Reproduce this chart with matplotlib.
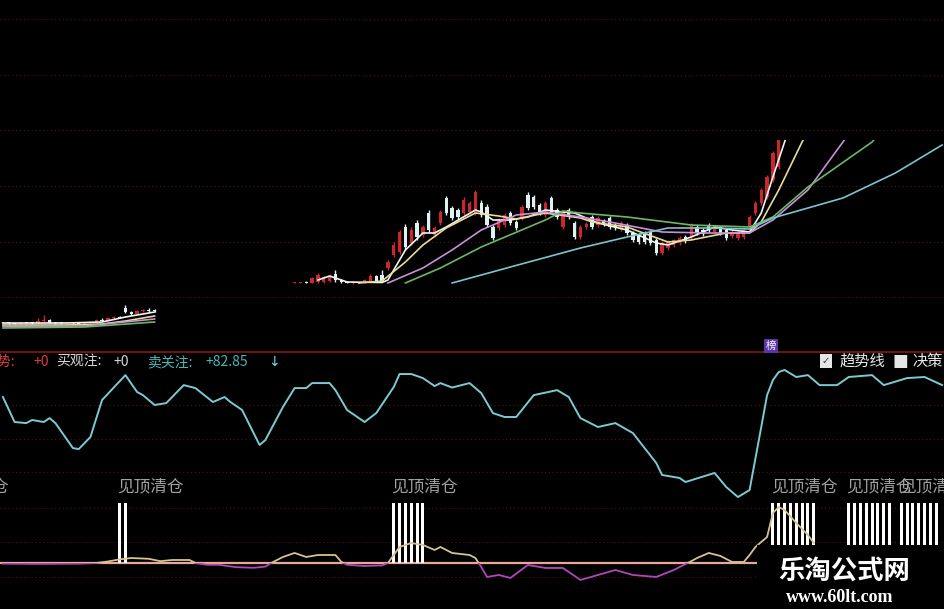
import numpy as np
import matplotlib
matplotlib.use("Agg")
import matplotlib.pyplot as plt
from matplotlib.patches import Rectangle

plt.rcParams['font.family'] = ['Noto Sans CJK SC', 'DejaVu Sans']

nan = np.nan
W, H = 945, 609
N_BARS = 162

# ---------------- price panel: daily candles ----------------
CANDLE_IDX = list(range(0, 27)) + list(range(50, 134))
CANDLE_OPEN = [
    7.70, 7.75, 7.70, 7.65, 7.75, 7.72, 7.70, 7.90, 8.00, 7.75, 7.70, 7.68, 7.72, 7.70,
    7.65, 7.72, 7.80, 8.00, 7.95, 8.20, 8.35, 9.20, 8.80, 8.60, 8.90, 9.00, 8.95,
    11.70, 11.72, 11.75, 11.70, 11.80, 11.80, 11.90, 12.60, 12.00, 11.80, 11.70, 11.75,
    11.70, 11.80, 12.40, 12.50, 13.20, 14.50, 14.80, 17.30, 15.70, 17.70, 16.50, 18.70,
    16.50, 17.70, 20.20, 19.20, 19.00, 18.70, 18.80, 18.70, 19.70, 19.30, 17.30, 17.20,
    17.50, 18.70, 17.80, 18.20, 20.50, 20.30, 19.50, 18.50, 20.20, 19.00, 17.30, 19.00,
    17.70, 16.30, 17.30, 18.30, 17.50, 18.00, 18.20, 17.50, 17.00, 17.50, 16.70, 16.50,
    16.70, 16.80, 16.00, 14.70, 15.20, 15.50, 15.70, 16.30, 16.30, 17.30, 17.00, 17.50,
    16.80, 17.30, 17.00, 16.40, 16.20, 16.30, 17.30, 18.70, 19.70, 20.30, 22.00, 23.30]
CANDLE_HIGH = [
    7.80, 7.80, 7.75, 7.80, 7.85, 7.80, 8.20, 8.50, 8.05, 7.80, 7.78, 7.75, 7.80, 7.78,
    7.75, 7.85, 8.10, 8.20, 8.30, 8.40, 8.45, 9.50, 8.90, 9.00, 9.10, 9.20, 9.05,
    11.75, 11.80, 11.85, 12.30, 12.70, 12.40, 12.60, 13.00, 12.10, 11.90, 11.85, 11.80,
    12.10, 12.60, 12.50, 13.00, 14.00, 15.80, 17.00, 17.60, 17.30, 18.00, 17.50, 19.00,
    17.40, 19.00, 20.40, 19.40, 19.20, 20.30, 19.90, 21.00, 20.00, 19.60, 17.50, 18.20,
    18.70, 18.90, 18.00, 19.50, 20.80, 20.50, 19.70, 19.90, 20.40, 19.20, 19.00, 19.20,
    17.90, 17.50, 17.80, 18.50, 18.40, 18.10, 18.40, 17.70, 17.90, 17.70, 16.90, 16.70,
    16.90, 17.00, 16.20, 15.90, 16.00, 16.10, 16.40, 16.50, 17.70, 17.50, 17.20, 17.70,
    17.50, 17.40, 17.20, 17.00, 16.90, 17.20, 18.50, 19.90, 21.20, 22.50, 24.90, 27.00]
CANDLE_LOW = [
    7.65, 7.65, 7.60, 7.60, 7.70, 7.65, 7.65, 7.80, 7.70, 7.65, 7.62, 7.60, 7.65, 7.60,
    7.60, 7.68, 7.75, 7.90, 7.90, 8.10, 8.20, 8.70, 8.50, 8.55, 8.80, 8.85, 8.80,
    11.65, 11.65, 11.65, 11.65, 11.70, 11.70, 11.80, 11.80, 11.70, 11.65, 11.60, 11.65,
    11.65, 11.75, 11.80, 11.80, 13.00, 14.30, 14.60, 15.00, 15.50, 16.00, 16.30, 16.80,
    16.30, 17.50, 18.50, 18.00, 18.10, 18.50, 18.60, 18.50, 18.30, 17.30, 16.00, 17.00,
    17.30, 17.50, 17.00, 18.00, 19.00, 19.10, 18.50, 18.30, 18.60, 18.10, 17.10, 18.10,
    16.10, 16.10, 17.10, 17.10, 17.30, 17.40, 17.10, 17.00, 16.90, 16.50, 15.80, 15.60,
    15.60, 15.50, 14.50, 14.50, 15.00, 15.30, 15.50, 15.70, 16.10, 16.50, 16.40, 16.80,
    16.70, 16.50, 16.00, 16.20, 16.00, 16.10, 17.10, 18.50, 19.50, 20.10, 21.80, 23.10]
CANDLE_CLOSE = [
    7.75, 7.70, 7.65, 7.75, 7.72, 7.70, 7.90, 8.00, 7.75, 7.70, 7.68, 7.72, 7.70, 7.65,
    7.72, 7.80, 8.00, 7.95, 8.20, 8.35, 8.25, 8.80, 8.60, 8.90, 9.00, 8.95, 8.90,
    11.72, 11.75, 11.70, 12.20, 12.50, 12.30, 12.40, 12.00, 11.80, 11.70, 11.75, 11.70,
    12.00, 12.40, 11.90, 11.90, 13.80, 15.50, 16.80, 15.30, 17.00, 16.30, 17.30, 17.00,
    17.20, 18.80, 18.70, 18.20, 18.30, 20.00, 19.70, 20.80, 18.50, 17.50, 16.20, 18.00,
    18.50, 17.70, 17.20, 19.30, 19.20, 19.30, 18.70, 19.70, 18.80, 18.30, 18.80, 18.30,
    16.30, 17.30, 17.60, 17.30, 18.20, 17.60, 17.30, 17.20, 17.70, 16.70, 16.00, 15.80,
    15.80, 15.70, 14.70, 15.70, 15.80, 16.00, 16.20, 15.90, 17.50, 16.70, 16.60, 17.00,
    17.30, 16.70, 16.20, 16.80, 16.70, 17.00, 18.30, 19.70, 21.00, 22.30, 24.70, 26.50]

# moving averages (nan separates the two trading stretches)
MA5_IDX = [0, 11, 17, 21, 24, 26, 27, 54, 56, 58, 59, 65, 66, 69, 72, 74, 76, 81, 82, 84,
           87, 90, 93, 96, 98, 102, 107, 112, 114, 118, 122, 125, 128, 130, 132, 134, 135]
MA5_VAL = [7.7, 7.7, 7.8, 8.3, 8.6, 8.8, nan, 12.0, 12.4, 12.0, 11.8, 11.75, 12.0, 15.0, 16.7,
           16.7, 17.3, 19.0, 18.8, 18.0, 18.0, 18.3, 19.0, 18.8, 18.7, 17.7, 17.0, 15.7, 15.5,
           16.3, 17.3, 17.0, 16.8, 18.7, 22.3, 25.8, 27.6]
MA10_IDX = [0, 11, 17, 21, 24, 26, 27, 61, 65, 69, 72, 76, 81, 85, 88, 93, 99, 101, 107,
            114, 118, 124, 128, 130, 133, 137, 138]
MA10_VAL = [7.5, 7.5, 7.6, 7.9, 8.2, 8.4, nan, 11.7, 11.9, 13.8, 15.5, 17.2, 18.7, 18.4, 18.1,
            18.7, 18.2, 17.8, 17.3, 15.8, 16.0, 16.7, 16.7, 17.8, 21.0, 25.8, 26.9]
MA20_IDX = [0, 14, 26, 27, 66, 72, 77, 82, 88, 93, 99, 104, 113, 121, 128, 132, 138, 144, 145]
MA20_VAL = [7.35, 7.4, 8.1, nan, 11.7, 13.2, 15.0, 17.0, 18.5, 18.8, 18.3, 17.8, 16.8, 16.7,
            16.7, 18.0, 21.0, 25.8, 26.6]
MA30_IDX = [0, 14, 26, 27, 69, 75, 82, 93, 96, 99, 107, 118, 128, 132, 138, 149, 150]
MA30_VAL = [7.2, 7.3, 7.8, nan, 11.7, 13.2, 15.3, 18.0, 18.9, 18.7, 18.3, 17.5, 17.3, 18.3,
            21.3, 25.8, 26.5]
MA60_IDX = [77, 87, 99, 107, 114, 121, 128, 132, 138, 144, 153, 161]
MA60_VAL = [11.7, 13.3, 15.2, 16.3, 17.2, 17.2, 17.1, 18.2, 19.2, 20.2, 22.7, 25.5]

# ---------------- trend indicator (卖关注) ----------------
IND_IDX = [0, 2, 4, 5, 7, 8, 9, 12, 13, 15, 17, 21, 23, 24, 26, 28, 31, 33, 36, 38, 39, 41,
           44, 45, 48, 50, 52, 53, 56, 57, 59, 62, 64, 67, 68, 70, 72, 74, 75, 77, 80, 82, 84,
           86, 88, 91, 95, 97, 99, 102, 105, 108, 112, 113, 116, 117, 122, 124, 126, 128, 130,
           131, 132, 133, 134, 136, 138, 140, 143, 145, 149, 151, 155, 158, 161]
IND_VAL = [74.0, 55.5, 54.7, 57.0, 55.5, 58.4, 54.7, 36.2, 35.5, 44.4, 71.8, 90.2, 77.7, 75.4,
           68.1, 69.5, 82.8, 80.6, 70.3, 74.0, 70.3, 64.4, 38.5, 42.2, 66.6, 80.6, 80.6, 84.3,
           84.3, 79.1, 64.4, 55.5, 62.1, 81.4, 91.0, 91.0, 88.0, 82.1, 84.3, 81.0, 84.3, 76.9,
           62.1, 59.2, 59.2, 75.4, 79.1, 74.0, 58.4, 51.8, 54.7, 47.3, 25.2, 16.3, 14.1, 11.1,
           17.8, 7.4, 0.0, 5.2, 51.8, 75.4, 86.5, 92.5, 94.0, 88.8, 90.2, 82.8, 82.8, 88.8,
           90.2, 82.8, 88.0, 88.8, 82.85]

# ---------------- top-warning oscillator and signals ----------------
OSC_IDX = [0, 6, 13, 16, 18, 20, 22, 25, 27, 29, 32, 33, 35, 37, 40, 43, 45, 46, 48, 50,
           52, 54, 57, 58, 59, 62, 65, 66, 68, 70, 72, 74, 75, 77, 80, 81, 82, 83, 85, 87,
           90, 93, 96, 99, 102, 105, 108, 112, 115, 118, 119, 121, 123, 125, 127, 128, 129,
           131, 132, 133, 134, 136, 138, 139]
OSC_VAL = [-1, -1.5, -1, 0, 2.5, 6, 8.3, 7, 3, 5, 5, 0, -3, -3, -7, -8, -6, 0, 10, 16.7,
           10, 13.3, 13.3, 2, -3, -5, -4, 0, 26.7, 33.3, 30, 21.7, 26.7, 16.7, 13.3, 8.3,
           -6.7, -23.3, -20, -25, -3.3, -8.3, -8.3, -28.3, -20, -11.7, -20, -23.3, -11.7, 3,
           8.3, 16.7, 11.7, 1.7, 1.7, 13.3, 26.7, 43.3, 83.3, 93.3, 88.3, 66.7, 46.7, 33.3]
SIGNAL_IDX = ([20, 21] + list(range(67, 73)) + list(range(132, 140))
              + list(range(145, 153)) + list(range(154, 161)))
SIGNAL_LEVEL = 100
SIGNAL_LABEL_IDX = [-10, 20, 67, 132, 145, 154]
SIGNAL_LABEL = "见顶清仓"

# ---------------- colours ----------------
UP_RED = '#c8282c'
DOWN_WHITE = '#dff2f2'
MA_COLORS = ['#f4f4f4', '#e6dc96', '#c890d8', '#6cb864', '#7cc4d0']
GRID_RED = '#561414'


def fy(y):
    return 1 - y / H


fig = plt.figure(figsize=(W / 100, H / 100), dpi=100, facecolor='black')

# background grid and separator
bg = fig.add_axes([0, 0, 1, 1])
bg.set_xlim(0, W)
bg.set_ylim(H, 0)
bg.axis('off')
for gy in [19, 75, 130, 186, 242, 297, 405, 439, 472, 508, 542, 577]:
    bg.axhline(gy, color=GRID_RED, lw=0.8, ls=(0, (1, 2.5)))
bg.axhline(352, color='#7c1414', lw=1.3)

XLIM = (-0.5, N_BARS - 0.5)

# price panel
ax_p = fig.add_axes([0, fy(352), 1, (352 - 140) / H])
ax_p.set_xlim(*XLIM)
ax_p.set_ylim(4.8, 26.0)
ax_p.axis('off')
idx = np.array(CANDLE_IDX)
o = np.array(CANDLE_OPEN)
h = np.array(CANDLE_HIGH)
l = np.array(CANDLE_LOW)
c = np.array(CANDLE_CLOSE)
up = c >= o
cols = np.where(up, UP_RED, DOWN_WHITE)
ax_p.vlines(idx, l, h, colors=cols, lw=1.0, zorder=2)
ax_p.bar(idx, np.maximum(np.abs(c - o), 0.1), bottom=np.minimum(o, c), width=0.55,
         color=cols, linewidth=0, zorder=2)
for xs, ys, col in zip([MA5_IDX, MA10_IDX, MA20_IDX, MA30_IDX, MA60_IDX],
                       [MA5_VAL, MA10_VAL, MA20_VAL, MA30_VAL, MA60_VAL], MA_COLORS):
    ax_p.plot(xs, ys, color=col, lw=1.2, zorder=3)

# indicator panel
ax_i = fig.add_axes([0, fy(505), 1, (505 - 352) / H])
ax_i.set_xlim(*XLIM)
ax_i.set_ylim(-5.9, 107.3)
ax_i.axis('off')
ax_i.plot(IND_IDX, IND_VAL, color='#7ccad2', lw=1.4)

# signal panel
ax_b = fig.add_axes([0, 0, 1, (609 - 470) / H])
ax_b.set_xlim(*XLIM)
ax_b.set_ylim(-76.7, 155)
ax_b.axis('off')
ax_b.axhline(0, color='#e8a898', lw=1.6, zorder=2)
ax_b.bar(SIGNAL_IDX, SIGNAL_LEVEL, width=0.5, color='white', linewidth=0, zorder=3)
upper = Rectangle((-20, 0), 250, 1000, transform=ax_b.transData)
lower = Rectangle((-20, -1000), 250, 1000, transform=ax_b.transData)
pos_line, = ax_b.plot(OSC_IDX, OSC_VAL, color='#d4c490', lw=1.3, zorder=4)
pos_line.set_clip_path(upper)
neg_line, = ax_b.plot(OSC_IDX, OSC_VAL, color='#b048b8', lw=1.3, zorder=4)
neg_line.set_clip_path(lower)
for si in SIGNAL_LABEL_IDX:
    ax_b.text(si - 0.35, 127, SIGNAL_LABEL, color='#a2a2a2', fontsize=12,
              ha='left', va='center', zorder=5)

# header of indicator panel
hy = fy(362)
fig.text(-16 / W, hy, "趋势:", color='#e03c3c', fontsize=10, va='center')
fig.text(33 / W, hy, "+0", color='#e03c3c', fontsize=10, va='center')
fig.text(56 / W, hy, "买观注:", color='#d6d6d6', fontsize=10, va='center')
fig.text(113 / W, hy, "+0", color='#d6d6d6', fontsize=10, va='center')
fig.text(147 / W, hy, "卖关注:", color='#4ab8b8', fontsize=10, va='center')
fig.text(205 / W, hy, "+%.2f" % IND_VAL[-1], color='#4ab8b8', fontsize=10, va='center')
fig.text(268 / W, hy, "↓", color='#78d8e8', fontsize=10, va='center',
         family='DejaVu Sans')

# legend toggles on the right
fig.text(771 / W, fy(346), "榜", color='white', fontsize=7.5, ha='center', va='center',
         bbox=dict(facecolor='#5a34a8', edgecolor='none', boxstyle='square,pad=0.15'))
fig.text(826 / W, fy(361), "✓", color='#303030', fontsize=7, ha='center', va='center',
         family='DejaVu Sans',
         bbox=dict(facecolor='#e6e6e6', edgecolor='none', boxstyle='square,pad=0.25'))
fig.text(840 / W, fy(361), "趋势线", color='#e6e6e6', fontsize=11, va='center')
fig.text(893 / W, fy(361), "■", color='#e6e6e6', fontsize=12, va='center',
         family='DejaVu Sans')
fig.text(912 / W, fy(361), "决策", color='#e6e6e6', fontsize=11, va='center')

# site mark in the lower right corner
fig.add_artist(Rectangle((757 / W, 0), (W - 757) / W, (609 - 545) / H,
                         transform=fig.transFigure, facecolor='black',
                         edgecolor='none', zorder=5))
fig.text(844 / W, fy(571), "乐淘公式网", color='white', fontsize=19, weight='bold',
         ha='center', va='center', zorder=6)
fig.text(840 / W, fy(597), "www.60lt.com", color='white', fontsize=13, weight='bold',
         family='Liberation Serif', ha='center', va='center', zorder=6)

fig.savefig('out.png', dpi=100, facecolor='black')
